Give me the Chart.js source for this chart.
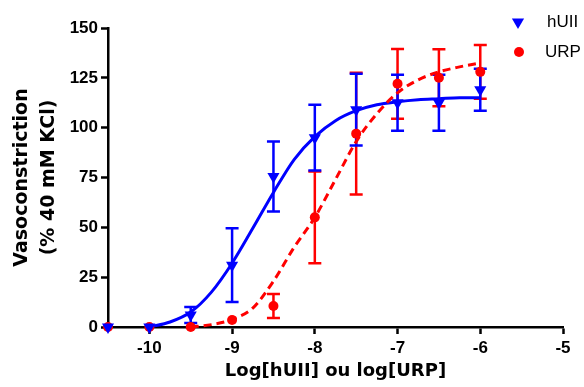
<!DOCTYPE html>
<html>
<head>
<meta charset="utf-8">
<script src="https://cdn.jsdelivr.net/npm/chart.js"></script>
<style>
  html, body { margin: 0; padding: 0; background: #fff; }
  canvas { display: block; }
</style>
</head>
<body>
<canvas id="chart" width="584" height="387"></canvas>
<script>
// log concentrations tested
const DOSES = [-10.5, -10, -9.5, -9, -8.5, -8, -7.5, -7, -6.5, -6];

// mean +/- SEM, % of 40 mM KCl response
const HUII_MEAN = [0, 0, 6, 31, 75.5, 95, 109, 112.5, 112.5, 119];
const HUII_SEM = [0, 0, 4, 18.5, 17.5, 16.5, 18, 14, 14, 10.5];
const URP_MEAN = [0, 0, 0, 3.5, 10.5, 55, 97, 122, 125, 128];
const URP_SEM = [0, 0, 0, 0, 6, 23, 30.5, 17.5, 14.3, 13.5];

// fitted curves
const HUII_FIT_X = [-10, -9.75, -9.5, -9.25, -9, -8.75, -8.5, -8.25, -8, -7.75, -7.5, -7.25, -7, -6.75, -6.5, -6.25, -6];
const HUII_FIT = [0, 2.5, 7.5, 17.5, 32, 49.5, 67.5, 84, 95.5, 103.5, 108.5, 111.5, 113, 114, 114.5, 115, 115];
const URP_FIT_X = [-9.5, -9.25, -9, -8.75, -8.5, -8.25, -8, -7.75, -7.5, -7.25, -7, -6.75, -6.5, -6.25, -6];
const URP_FIT = [0, 1.2, 3.8, 9.5, 23, 40, 55, 74, 93, 107, 117.5, 124, 128, 130.5, 132.5];

const X_TICKS = [-10, -9, -8, -7, -6, -5];

const BLUE = "#0000ff";
const RED = "#ff0000";
const CAP = 6.5;

const pts = (xs, ys) => xs.map((x, i) => ({ x, y: ys[i] }));

// vertical SEM bars with caps, drawn under the markers
const errorBars = {
  id: "errorBars",
  beforeDatasetsDraw(chart) {
    const { ctx, scales: { x, y } } = chart;
    ctx.save();
    ctx.lineWidth = 2.5;
    for (const ds of chart.data.datasets) {
      if (!ds.errors) continue;
      ctx.strokeStyle = ds.backgroundColor;
      ds.data.forEach((p, i) => {
        const e = ds.errors[i];
        if (!e) return;
        const px = x.getPixelForValue(p.x);
        const top = y.getPixelForValue(p.y + e);
        const bot = y.getPixelForValue(p.y - e);
        ctx.beginPath();
        ctx.moveTo(px, top); ctx.lineTo(px, bot);
        ctx.moveTo(px - CAP, top); ctx.lineTo(px + CAP, top);
        ctx.moveTo(px - CAP, bot); ctx.lineTo(px + CAP, bot);
        ctx.stroke();
      });
    }
    ctx.restore();
  },
};

// small legend in the top right corner, over the plot
const cornerLegend = {
  id: "cornerLegend",
  afterDraw(chart) {
    const { ctx, chartArea } = chart;
    const mx = chartArea.right - 45;
    const tx = chartArea.right - 16;
    const y1 = chartArea.top - 6;
    const y2 = chartArea.top + 24;
    ctx.save();
    ctx.fillStyle = BLUE;
    ctx.beginPath();
    ctx.moveTo(mx - 6.1, y1 - 3.5);
    ctx.lineTo(mx + 6.1, y1 - 3.5);
    ctx.lineTo(mx, y1 + 7);
    ctx.closePath();
    ctx.fill();
    ctx.fillStyle = RED;
    ctx.beginPath();
    ctx.arc(mx + 1, y2, 5, 0, Math.PI * 2);
    ctx.fill();
    ctx.fillStyle = "#000";
    ctx.font = "17px 'Liberation Sans', Arial, sans-serif";
    ctx.textBaseline = "middle";
    ctx.fillText("hUII", tx, y1);
    ctx.fillText("URP", tx - 2, y2);
    ctx.restore();
  },
};

const tickFont = { family: "'Liberation Sans', Arial, sans-serif", size: 17, weight: "bold" };
const titleFont = { family: "'DejaVu Sans', sans-serif", size: 18, weight: "bold" };

new Chart(document.getElementById("chart"), {
  type: "scatter",
  data: {
    datasets: [
      {
        label: "hUII fit",
        data: pts(HUII_FIT_X, HUII_FIT),
        showLine: true,
        borderColor: BLUE,
        borderWidth: 3,
        pointRadius: 0,
        cubicInterpolationMode: "monotone",
        clip: false,
        order: 4,
      },
      {
        label: "URP fit",
        data: pts(URP_FIT_X, URP_FIT),
        showLine: true,
        borderColor: RED,
        borderWidth: 3,
        borderDash: [8, 5],
        pointRadius: 0,
        cubicInterpolationMode: "monotone",
        clip: false,
        order: 3,
      },
      {
        label: "URP",
        data: pts(DOSES, URP_MEAN),
        errors: URP_SEM,
        backgroundColor: RED,
        borderWidth: 0,
        pointStyle: "circle",
        pointRadius: 5,
        clip: false,
        order: 2,
      },
      {
        label: "hUII",
        data: pts(DOSES, HUII_MEAN),
        errors: HUII_SEM,
        backgroundColor: BLUE,
        borderWidth: 0,
        pointStyle: "triangle",
        rotation: 180,
        pointRadius: 7,
        clip: false,
        order: 1,
      },
    ],
  },
  options: {
    responsive: false,
    animation: false,
    events: [],
    layout: { padding: { top: 28, right: 21, left: 0, bottom: 0 } },
    plugins: { legend: { display: false }, tooltip: { enabled: false } },
    scales: {
      x: {
        type: "linear",
        min: -10.5,
        max: -5,
        afterBuildTicks: (scale) => { scale.ticks = X_TICKS.map((v) => ({ value: v })); },
        afterFit: (scale) => { scale.height = 60; },
        grid: { drawOnChartArea: false, drawTicks: true, tickLength: 7, tickWidth: 2.5, tickColor: "#000" },
        border: { display: true, color: "#000", width: 2.5 },
        ticks: { font: tickFont, color: "#000", padding: 4, maxRotation: 0, callback: (v) => String(v) },
        title: { display: true, text: "Log[hUII] ou log[URP]", font: titleFont, color: "#000", padding: { top: 0, bottom: 5 } },
      },
      y: {
        min: 0,
        max: 150,
        afterFit: (scale) => { scale.width = 108; },
        grid: { drawOnChartArea: false, drawTicks: true, tickLength: 7, tickWidth: 2.5, tickColor: "#000" },
        border: { display: true, color: "#000", width: 2.5 },
        ticks: { stepSize: 25, font: tickFont, color: "#000", padding: 3 },
        title: {
          display: true,
          text: ["Vasoconstriction", "(% 40 mM KCl)"],
          font: { ...titleFont, size: 19, lineHeight: 1.45 },
          color: "#000",
          padding: { top: 8, bottom: 0 },
        },
      },
    },
  },
  plugins: [errorBars, cornerLegend],
});
</script>
</body>
</html>
